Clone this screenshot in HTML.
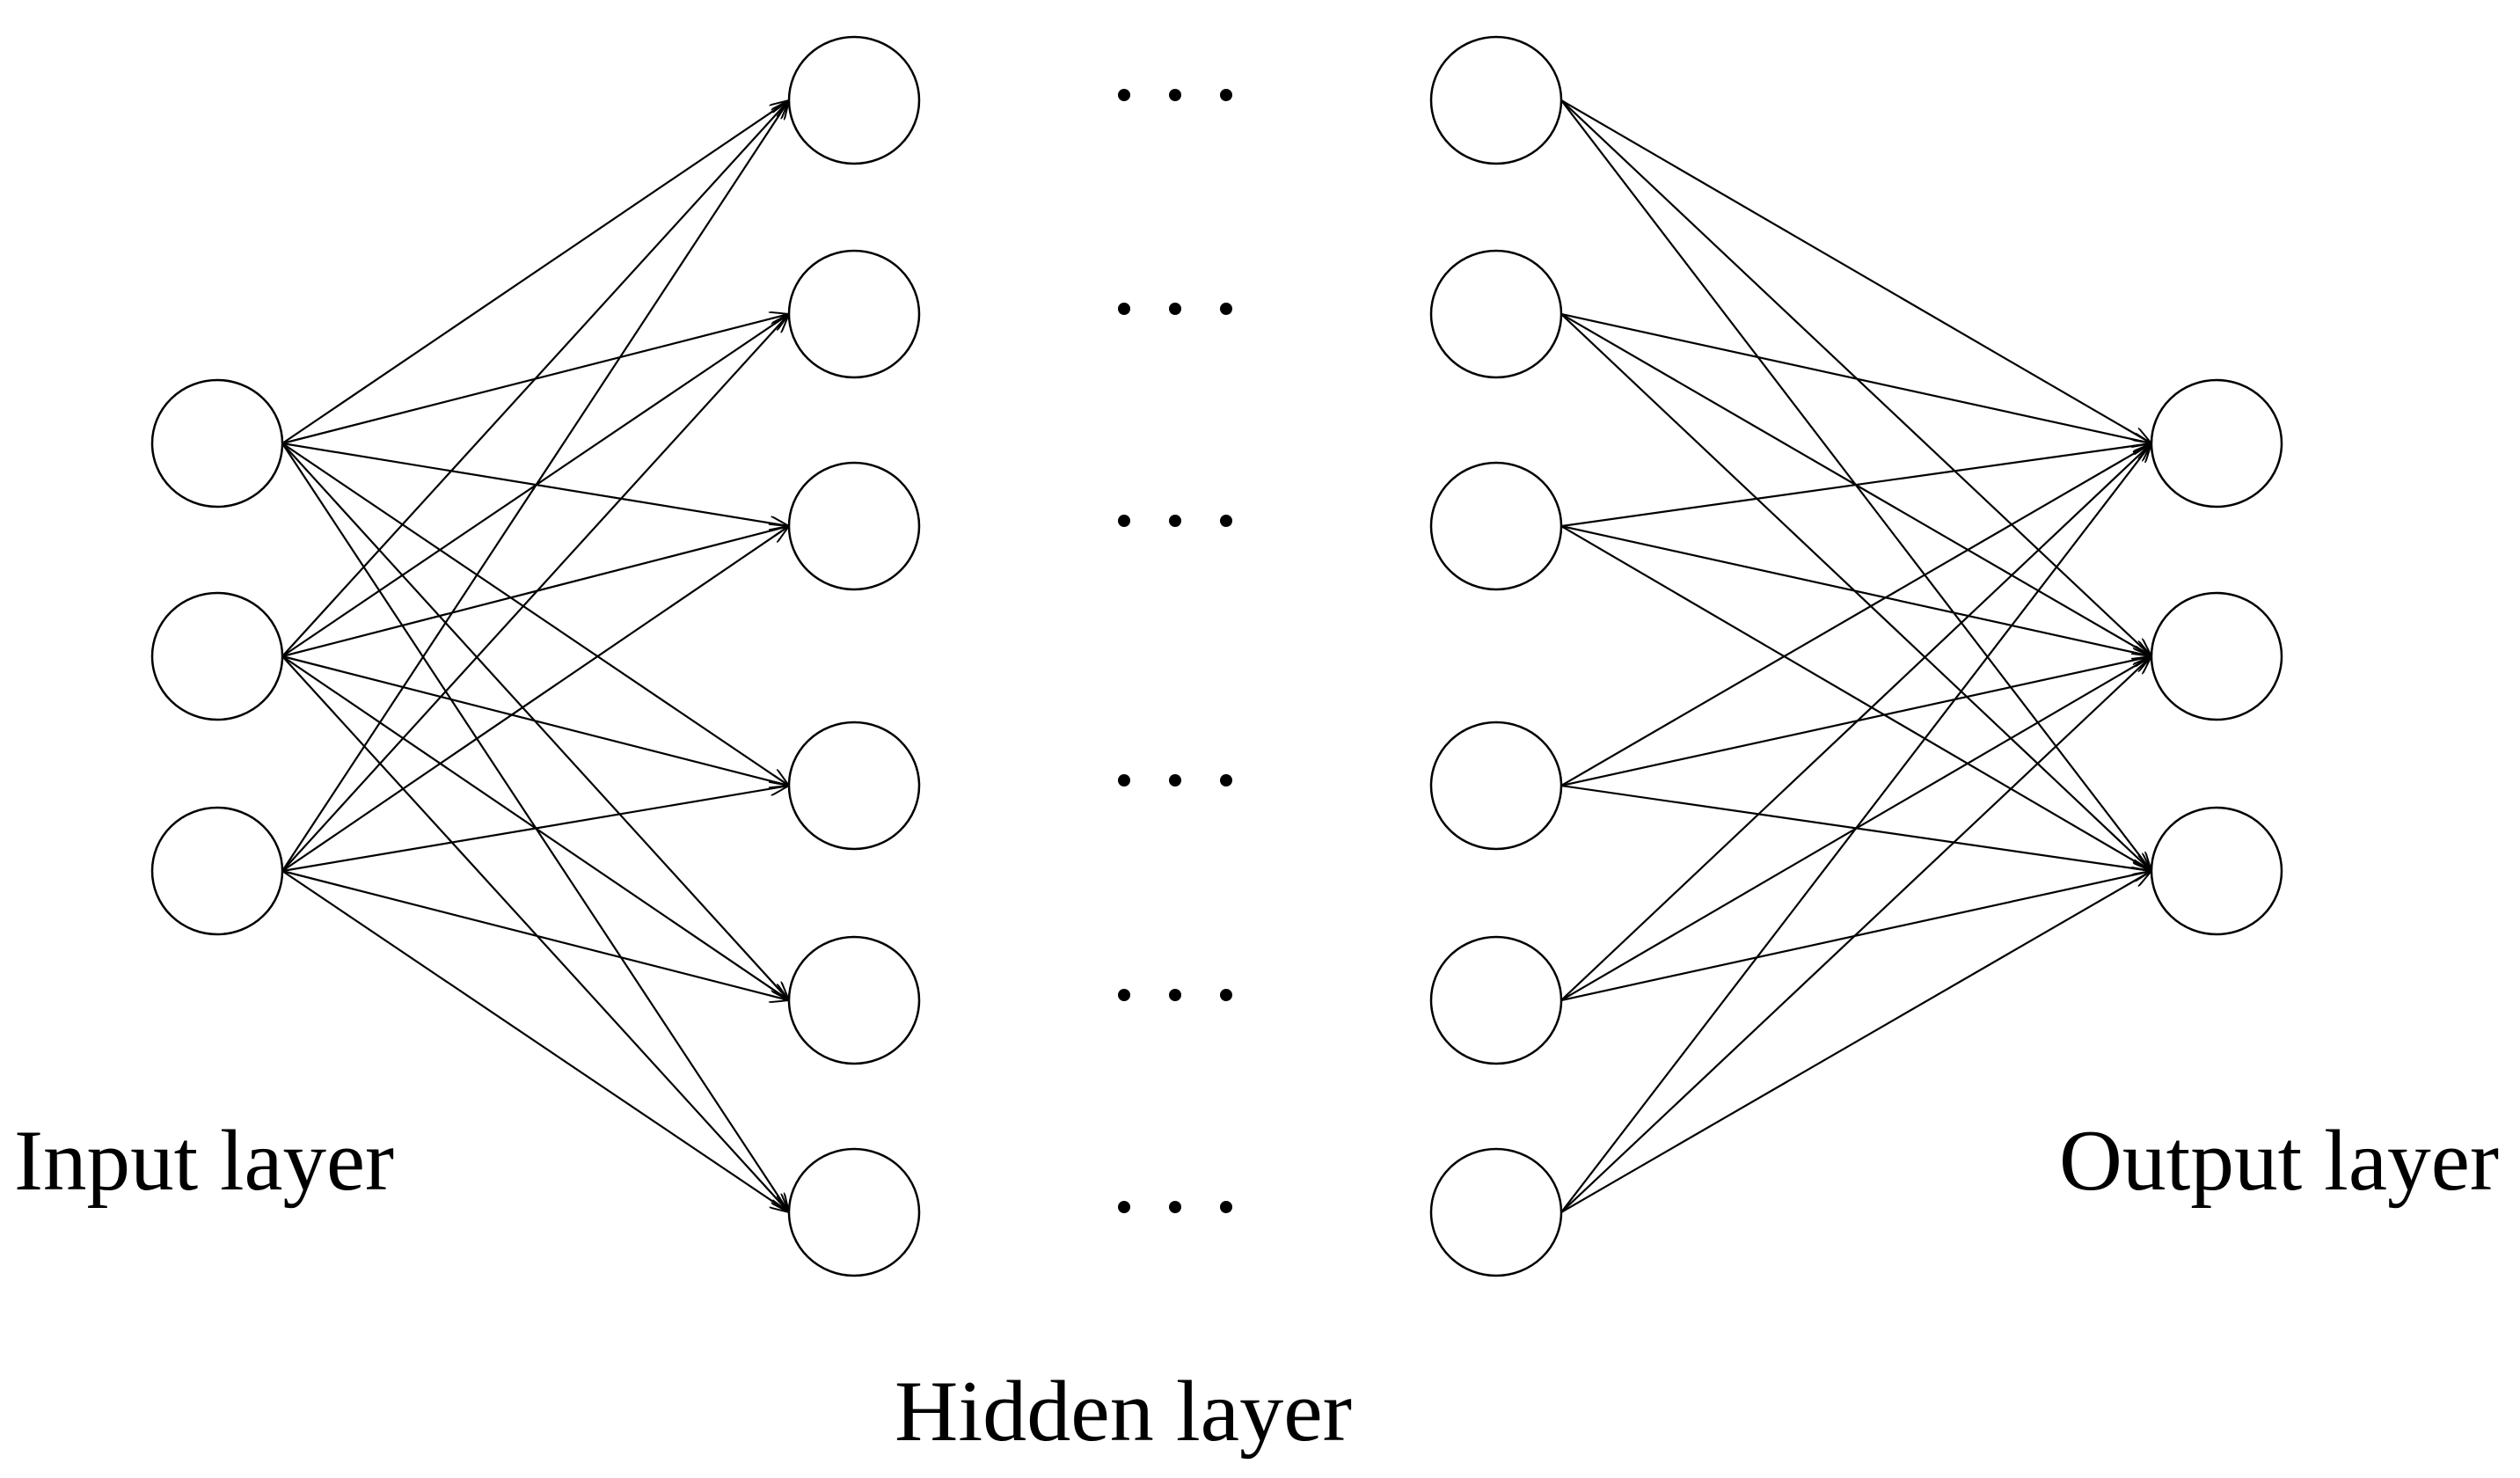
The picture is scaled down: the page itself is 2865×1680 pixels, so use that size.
<!DOCTYPE html>
<html><head><style>html,body{margin:0;padding:0;background:#fff}svg{display:block}</style></head>
<body>
<svg width="2865" height="1680" viewBox="0 0 2865 1680" xmlns="http://www.w3.org/2000/svg">
<defs><marker id="a" markerWidth="24" markerHeight="16" refX="22" refY="8" orient="auto" markerUnits="userSpaceOnUse"><path d="M0,0 L22,8 L0,16" fill="none" stroke="#000" stroke-width="2"/></marker></defs>
<g id="lines" stroke="#000" stroke-width="2.2" fill="none"></g>
<g id="nodes" stroke="#000" stroke-width="2.5" fill="#fff"></g>
<g id="dots" fill="#000"></g>
<g font-family="Liberation Serif, serif" font-size="99" fill="#000">
<text x="16" y="1352" textLength="432" lengthAdjust="spacingAndGlyphs">Input layer</text>
<text x="1017" y="1637" textLength="520" lengthAdjust="spacingAndGlyphs">Hidden layer</text>
<text x="2341" y="1352" textLength="500" lengthAdjust="spacingAndGlyphs">Output layer</text>
</g>
<script>
var ns="http://www.w3.org/2000/svg",rx=74,ry=72;
var inp=[504,746,990],hid=[114,357,598,893,1137,1378],out=[504,746,990];
var L=document.getElementById('lines'),N=document.getElementById('nodes'),D=document.getElementById('dots');
function line(x1,y1,x2,y2){var l=document.createElementNS(ns,'line');l.setAttribute('x1',x1);l.setAttribute('y1',y1);l.setAttribute('x2',x2);l.setAttribute('y2',y2);l.setAttribute('marker-end','url(#a)');L.appendChild(l);}
function ell(cx,cy){var e=document.createElementNS(ns,'ellipse');e.setAttribute('cx',cx);e.setAttribute('cy',cy);e.setAttribute('rx',rx);e.setAttribute('ry',ry);N.appendChild(e);}
inp.forEach(function(a){hid.forEach(function(b){line(247+rx,a,971-rx,b);});});
hid.forEach(function(a){out.forEach(function(b){line(1701+rx,a,2520-rx,b);});});
inp.forEach(function(y){ell(247,y)});hid.forEach(function(y){ell(971,y);ell(1701,y);
[1278,1336,1394].forEach(function(x){var c=document.createElementNS(ns,'circle');c.setAttribute('cx',x);c.setAttribute('cy',y-6);c.setAttribute('r',7);D.appendChild(c);});});
out.forEach(function(y){ell(2520,y)});
</script>
</svg>
</body></html>
